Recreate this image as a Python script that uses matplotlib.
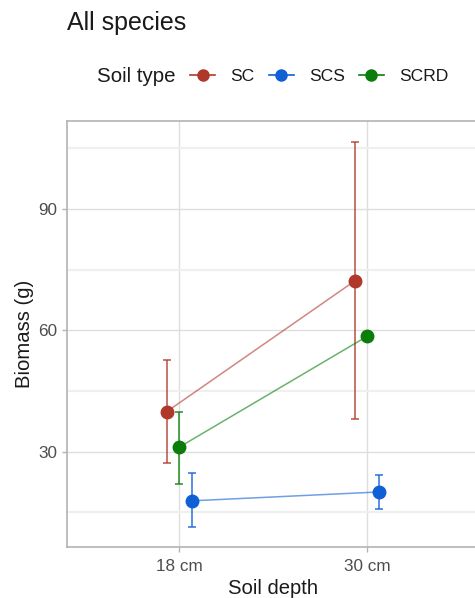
import numpy as np
import matplotlib.pyplot as plt
from matplotlib.lines import Line2D

plt.rcParams['font.family'] = ['Liberation Sans', 'DejaVu Sans']

# data
depths = ['18 cm', '30 cm']
soil_types = ['SC', 'SCS', 'SCRD']
colors = {'SC': '#b0382a', 'SCS': '#0f5fd6', 'SCRD': '#0a7d0a'}

mean = {'SC': [39.9, 72.2], 'SCS': [17.8, 20.0], 'SCRD': [31.1, 58.5]}
lower = {'SC': [27.1, 38.0], 'SCS': [11.2, 15.7], 'SCRD': [22.0, np.nan]}
upper = {'SC': [52.7, 106.7], 'SCS': [24.65, 24.2], 'SCRD': [39.75, np.nan]}

dodge = {'SC': -0.066, 'SCRD': 0.0, 'SCS': 0.066}

fig = plt.figure(figsize=(4.75, 5.98), dpi=100)
ax = fig.add_axes([0.1404, 0.0858, 0.8695, 0.7119])

x0 = np.arange(1, len(depths) + 1)
for s in soil_types:
    x = x0 + dodge[s]
    m = np.array(mean[s])
    lo = np.array(lower[s])
    hi = np.array(upper[s])
    ok = ~np.isnan(lo)
    ax.plot(x, m, color=colors[s], lw=1.1, alpha=0.6, zorder=3)
    ax.errorbar(x[ok], m[ok], yerr=[m[ok] - lo[ok], hi[ok] - m[ok]], fmt='none',
                ecolor=colors[s], elinewidth=1.3, capsize=3, capthick=1.3,
                alpha=0.75, zorder=3)
    ax.plot(x, m, 'o', color=colors[s], ms=9, zorder=4)

ax.set_xlim(0.4, 2.6)
ax.set_ylim(6.45, 111.8)
ax.set_xticks(x0)
ax.set_xticklabels(depths)
ax.set_yticks([30, 60, 90])
ax.set_yticks([15, 45, 75, 105], minor=True)

ax.grid(True, which='major', color='#dedede', lw=1.0, zorder=0)
ax.grid(True, which='minor', axis='y', color='#efefef', lw=1.6, zorder=0)
ax.set_axisbelow(True)
for sp in ax.spines.values():
    sp.set_color('#b3b3b3')
    sp.set_linewidth(1.2)
ax.tick_params(which='major', length=3.5, width=1, color='#b3b3b3',
               labelcolor='#4d4d4d', labelsize=12.3, pad=3.5)
ax.tick_params(axis='x', which='major', pad=5.5)
ax.tick_params(which='minor', length=0)

ax.set_xlabel('Soil depth', fontsize=14.6, color='#1a1a1a', labelpad=3.5)
ax.set_ylabel('Biomass (g)', fontsize=14.6, color='#1a1a1a', labelpad=3)

fig.text(0.1404, 0.9498, 'All species', fontsize=18, color='#1a1a1a',
         va='baseline', ha='left')

fig.text(0.2035, 0.8717, 'Soil type', fontsize=14.8, color='#1a1a1a',
         va='center', ha='left')
handles = [Line2D([0], [0], color=colors[s], lw=1.2, marker='o', ms=8,
                  markerfacecolor=colors[s], markeredgecolor=colors[s])
           for s in soil_types]
fig.legend(handles, soil_types, ncol=3, loc='center left',
           bbox_to_anchor=(0.4, 0.8717), frameon=False, fontsize=12.6,
           labelcolor='#1a1a1a', handlelength=1.44, handletextpad=0.86,
           columnspacing=0.8, borderpad=0, borderaxespad=0)

fig.savefig('out.png', dpi=100)
